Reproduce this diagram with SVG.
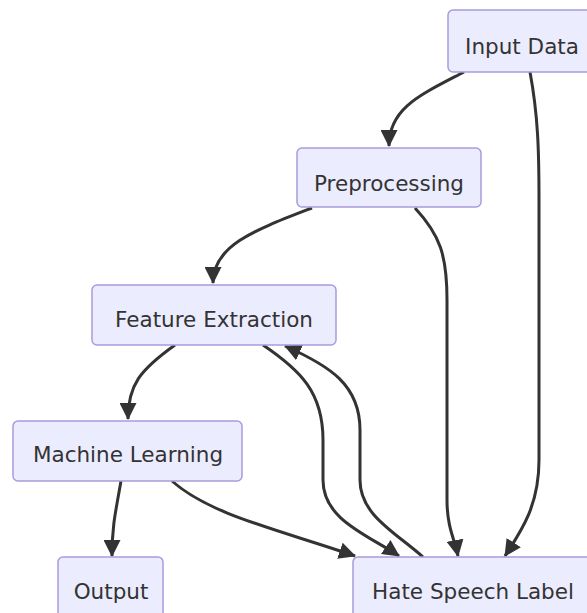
<svg xmlns="http://www.w3.org/2000/svg" width="587" height="613" viewBox="0 0 587 613">
<style>
.node rect{fill:#ECECFF;stroke:#A99BDC;stroke-width:1.5}
.node text{font-family:"DejaVu Sans","Liberation Sans",sans-serif;font-size:21.5px;fill:#333;text-anchor:middle;dominant-baseline:central}
.edges path{fill:none;stroke:#333;stroke-width:3}
</style>
<defs>
<marker id="arr" markerUnits="userSpaceOnUse" markerWidth="17" markerHeight="17" refX="16" refY="8.5" orient="auto" viewBox="0 0 17 17">
<path d="M0,0 L17,8.5 L0,17 z" fill="#333"/>
</marker>
</defs>
<rect width="587" height="613" fill="#fff"/>
<g class="edges">
<path d="M464 72 C420 95 389 108 389 146" marker-end="url(#arr)"/>
<path d="M530 72 C538 115 539 150 539 200 L539 460 C539 505 522 530 505 556" marker-end="url(#arr)"/>
<path d="M312 208 C255 230 213 245 213 283" marker-end="url(#arr)"/>
<path d="M415 208 C440 235 447 255 447 300 L447 500 C447 528 455 540 458 556" marker-end="url(#arr)"/>
<path d="M175 345 C140 370 128 385 128 419" marker-end="url(#arr)"/>
<path d="M263 345 C300 370 323 392 323 440 L323 480 C323 520 368 535 399 556" marker-end="url(#arr)"/>
<path d="M423 557 C395 532 360 515 360 480 L360 430 C360 385 330 366 285 346" marker-end="url(#arr)"/>
<path d="M121 481 C116 510 112 525 112 556" marker-end="url(#arr)"/>
<path d="M172 481 C210 515 280 530 355 556" marker-end="url(#arr)"/>
</g>
<g id="input" class="node"><rect x="448" y="10" width="150" height="62" rx="5"/><text x="522" y="46">Input Data</text></g>
<g id="pre" class="node"><rect x="297" y="148" width="184" height="59" rx="5"/><text x="389" y="183">Preprocessing</text></g>
<g id="fe" class="node"><rect x="92" y="285" width="244" height="60" rx="5"/><text x="214" y="319">Feature Extraction</text></g>
<g id="ml" class="node"><rect x="13" y="421" width="229" height="60" rx="5"/><text x="128" y="454">Machine Learning</text></g>
<g id="out" class="node"><rect x="58" y="557" width="105" height="70" rx="5"/><text x="111" y="591">Output</text></g>
<g id="hsl" class="node"><rect x="353" y="557" width="242" height="70" rx="5"/><text x="473" y="591">Hate Speech Label</text></g>
</svg>
